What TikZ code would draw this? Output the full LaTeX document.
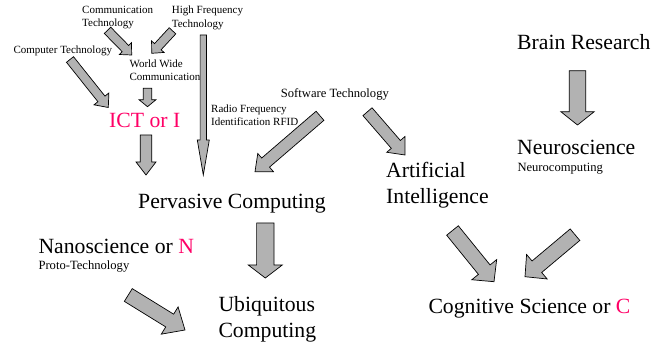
\documentclass[tikz,border=0pt]{standalone}
\usepackage{fontspec}
\setmainfont{Liberation Serif}
\usepackage{xcolor}
\usepackage{tikz}
\usetikzlibrary{calc}
\definecolor{ictpink}{RGB}{255,0,102}
\definecolor{arrowgray}{RGB}{178,178,178}
\tikzset{
  smalltxt/.style={font=\fontsize{11}{13.5}\selectfont, align=left, inner sep=0pt},
  midtxt/.style={font=\fontsize{12.6}{15}\selectfont, align=left, inner sep=0pt},
  bigtxt/.style={font=\fontsize{21.7}{26}\selectfont, align=left, inner sep=0pt},
  shaftw/.store in=\arrshaft, headw/.store in=\arrhead, headl/.store in=\arrlen,
  shaftw=5pt, headw=10pt, headl=12pt,
  blk/.style={draw=black, fill=arrowgray, line width=0.7pt, line join=miter,
    to path={($(\tikztostart)!\arrshaft!90:(\tikztotarget)$)
      -- ($(\tikztotarget)!\arrlen!(\tikztostart)!\arrshaft!90:(\tikztotarget)$)
      -- ($(\tikztotarget)!\arrlen!(\tikztostart)!\arrhead!90:(\tikztotarget)$)
      -- (\tikztotarget)
      -- ($(\tikztotarget)!\arrlen!(\tikztostart)!\arrhead!-90:(\tikztotarget)$)
      -- ($(\tikztotarget)!\arrlen!(\tikztostart)!\arrshaft!-90:(\tikztotarget)$)
      -- ($(\tikztostart)!\arrshaft!-90:(\tikztotarget)$) -- cycle}},
  thinarr/.style={blk, shaftw=4.5pt, headw=8.5pt, headl=9pt},
  midarr/.style={blk, shaftw=6pt, headw=12pt, headl=14pt},
  fatarr/.style={blk, shaftw=7.5pt, headw=16pt, headl=15.5pt}
}

\begin{document}
\begin{tikzpicture}[x=1pt, y=-1pt]
    \useasboundingbox (0,0) rectangle (670,347);
    \node[smalltxt, anchor=north west] (comm) at (82,5.8) {Communication\\Technology};
    \node[smalltxt, anchor=north west] (hifreq) at (171.7,5.8) {High Frequency\\Technology};
    \node[smalltxt, anchor=base west] (comp) at (13.3,53.3) {Computer Technology};
    \node[smalltxt, anchor=north west] (www) at (129.3,59.2) {World Wide\\Communication};
    \node[bigtxt, anchor=base west, text=ictpink] (ict) at (109,127.3) {ICT or I};
    \node[smalltxt, anchor=north west] (rfid) at (211,104.2) {Radio Frequency\\Identification RFID};
    \node[midtxt, anchor=base west] (soft) at (280.7,98) {Software Technology};
    \node[bigtxt, anchor=base west] (perv) at (138,208.7) {Pervasive Computing};
    \node[bigtxt, anchor=north west] (ai) at (386,161.7) {Artificial\\Intelligence};
    \node[bigtxt, anchor=base west] (brain) at (517,50) {Brain Research};
    \node[bigtxt, anchor=base west] (neuro) at (517,155) {Neuroscience};
    \node[midtxt, anchor=base west] (neurocomp) at (517.3,172) {Neurocomputing};
    \node[bigtxt, anchor=base west] (nano) at (38.3,253.3) {Nanoscience or \textcolor{ictpink}{N}};
    \node[midtxt, anchor=base west] (proto) at (38.3,269.3) {Proto-Technology};
    \node[bigtxt, anchor=north west] (ubiq) at (218.3,296.7) {Ubiquitous\\Computing};
    \node[bigtxt, anchor=base west] (cog) at (428.3,313.3) {Cognitive Science or \textcolor{ictpink}{C}};
    \draw[thinarr] ([shift={(25.5,24.5)}]comm.north west) to ([shift={(2.4,-4.2)}]www.north west);
    \draw[thinarr] ([shift={(0.8,25)}]hifreq.north west) to ([shift={(22.4,-5.9)}]www.north west);
    \draw[thinarr, headw=9.5pt, headl=11pt] ([shift={(56.7,6.2)}]comp.base west) to ([shift={(-0.7,-19.8)}]ict.base west);
    \draw[thinarr, shaftw=4.2pt, headl=7pt] ([shift={(18.2,29.1)}]www.north west) to ([shift={(38.5,-20.6)}]ict.base west);
    \draw[blk, shaftw=5.8pt, headw=10pt, headl=13pt] ([shift={(37,7.7)}]ict.base west) to ([shift={(8,-33.7)}]perv.base west);
    \draw[blk, shaftw=3.2pt, headw=6pt, headl=35pt] ([shift={(31.6,29.2)}]hifreq.north west) to ([shift={(65.3,-33.7)}]perv.base west);
    \draw[midarr] ([shift={(39.3,17.8)}]soft.base west) to ([shift={(117,-37)}]perv.base west);
    \draw[midarr] ([shift={(86.8,13.7)}]soft.base west) to ([shift={(19,-6.7)}]ai.north west);
    \draw[blk, shaftw=8.2pt, headw=16.7pt, headl=13.3pt] ([shift={(60.5,20.7)}]brain.base west) to ([shift={(60.5,-30)}]neuro.base west);
    \draw[blk, shaftw=8.7pt, headw=17pt, headl=13pt] ([shift={(127.3,14.3)}]perv.base west) to ([shift={(47,-18.7)}]ubiq.north west);
    \draw[fatarr, headl=18pt] ([shift={(90,41.7)}]nano.base west) to ([shift={(-33.3,33.3)}]ubiq.north west);
    \draw[fatarr] ([shift={(66.5,68.8)}]ai.north west) to ([shift={(65.7,-31.6)}]cog.base west);
    \draw[fatarr] ([shift={(58,79.7)}]neuro.base west) to ([shift={(96.7,-36.6)}]cog.base west);
\end{tikzpicture}
\end{document}
